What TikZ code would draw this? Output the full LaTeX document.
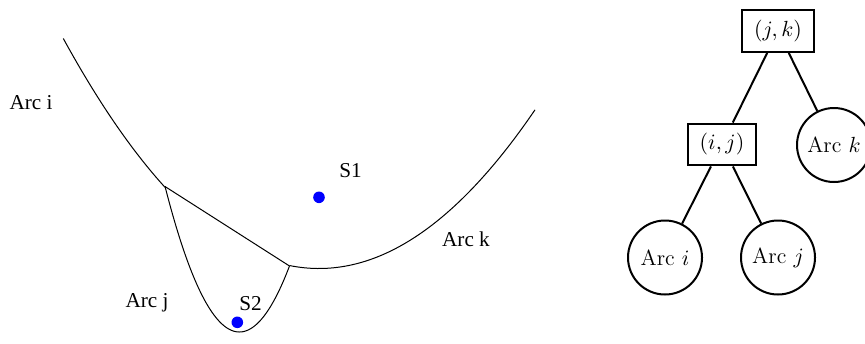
\documentclass[tikz,border=0pt]{standalone}
\usepackage{fontspec}
\newfontfamily\timesf{Liberation Serif}
\begin{document}
\begin{tikzpicture}[x=0.5pt,y=-0.5pt,
  curve/.style={line width=0.5pt, line join=round},
  lbl/.style={font=\timesf\fontsize{10.6}{12}\selectfont, inner sep=0pt},
  site/.style={circle, fill=blue, inner sep=0pt, minimum size=5.8pt},
  pairbox/.style={draw, line width=1pt, rectangle, inner xsep=6pt, inner ysep=5pt, font=\fontsize{11}{13}\selectfont},
  arcnode/.style={draw, line width=1pt, circle, minimum size=37pt, inner sep=0pt, font=\fontsize{11}{13}\selectfont},
  treeedge/.style={line width=1pt}]
\useasboundingbox (0,0) rectangle (865,343);
\clip (0,0) rectangle (865,343);
% Beach line (parabolic arcs)
\coordinate (A) at (165,186.5);
\coordinate (B) at (289.5,266);
\draw[curve] plot[domain=63.3:165, samples=60] (\x, {272 - ((\x-319)/16.733)^2});
\draw[curve] (A) -- (B);
\draw[curve] plot[domain=165:289.5, samples=80] (\x, {332 - ((\x-239.4)/6.164)^2});
\draw[curve] plot[domain=289.5:535, samples=80] (\x, {268.5 - ((\x-319)/17.146)^2});
% sites
\node[site] (s1) at (319,197.3) {};
\node[site] (s2) at (237.3,322.3) {};
\node[lbl] (s1l) at (350.5,171) {S1};
\node[lbl] (s2l) at (250.5,303.5) {S2};
\node[lbl] (ai) at (31,103) {Arc i};
\node[lbl] (aj) at (147,303) {Arc j};
\node[lbl] (ak) at (466,239) {Arc k};
% tree
\node[pairbox] (jk) at (778,31) {$(j,k)$};
\node[pairbox] (ij) at (722,144.5) {$(i,j)$};
\node[arcnode] (tk) at (834,145) {Arc $k$};
\node[arcnode] (ti) at (665,257.5) {Arc $i$};
\node[arcnode] (tj) at (778,257.5) {Arc $j$};
\draw[treeedge] (jk) -- (ij);
\draw[treeedge] (jk) -- (tk);
\draw[treeedge] (ij) -- (ti);
\draw[treeedge] (ij) -- (tj);
\end{tikzpicture}
\end{document}
